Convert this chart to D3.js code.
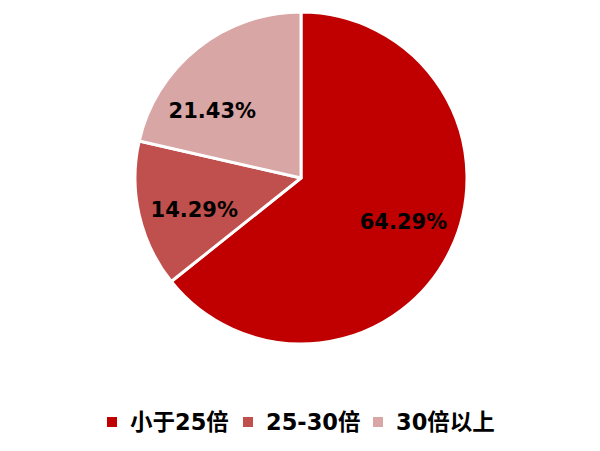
<!DOCTYPE html>
<html>
<head>
<meta charset="utf-8">
<script src="https://cdn.jsdelivr.net/npm/d3@7"></script>
<style>
  body { margin: 0; background: #fff; }
  text { font-family: "DejaVu Sans", "Noto Sans CJK SC", sans-serif; font-weight: bold; }
</style>
</head>
<body>
<div class="chart"></div>
<script>
var categories = ["小于25倍", "25-30倍", "30倍以上"];
var values = [64.29, 14.29, 21.43];
var colors = ["#C00000", "#C0504D", "#D9A6A6"];

var width = 600, height = 451;
var cx = 301, cy = 178, radius = 166;

var svg = d3.select(".chart")
    .append("svg")
    .attr("width", width)
    .attr("height", height);

var g = svg.append("g")
    .attr("transform", "translate(" + cx + "," + cy + ")");

var pie = d3.pie().sort(null).value(d => d.value);
var data = categories.map((c, i) => ({ name: c, value: values[i], color: colors[i] }));
var arcs = pie(data);

var arc = d3.arc().innerRadius(0).outerRadius(radius);

g.selectAll("path")
    .data(arcs)
    .enter()
    .append("path")
    .attr("d", arc)
    .attr("fill", d => d.data.color)
    .attr("stroke", "#fff")
    .attr("stroke-width", 3)
    .attr("stroke-linejoin", "round");

// labels sit at ~2/3 radius; small angle shifts like the original "best fit" placement
var labelShift = [-0.05, -0.06, -0.25];
var labelR = radius * 0.67;

g.selectAll(".label")
    .data(arcs)
    .enter()
    .append("text")
    .attr("class", "label")
    .attr("transform", (d, i) => {
        var a = (d.startAngle + d.endAngle) / 2 + labelShift[i];
        return "translate(" + (labelR * Math.sin(a)) + "," + (-labelR * Math.cos(a)) + ")";
    })
    .attr("text-anchor", "middle")
    .attr("dy", "0.36em")
    .style("font-size", "21px")
    .style("fill", "#000")
    .text(d => d.data.value.toFixed(2) + "%");

// legend
var legendX = [107, 243, 373];
var legend = svg.append("g").attr("transform", "translate(0,422)");

var item = legend.selectAll(".item")
    .data(data)
    .enter()
    .append("g")
    .attr("class", "item")
    .attr("transform", (d, i) => "translate(" + legendX[i] + ",0)");

item.append("rect")
    .attr("x", 0)
    .attr("y", -5)
    .attr("width", 10)
    .attr("height", 10)
    .attr("fill", d => d.color);

item.append("text")
    .attr("x", 23)
    .attr("dy", "0.36em")
    .style("font-size", "22.5px")
    .style("fill", "#000")
    .text(d => d.name);
</script>
</body>
</html>
